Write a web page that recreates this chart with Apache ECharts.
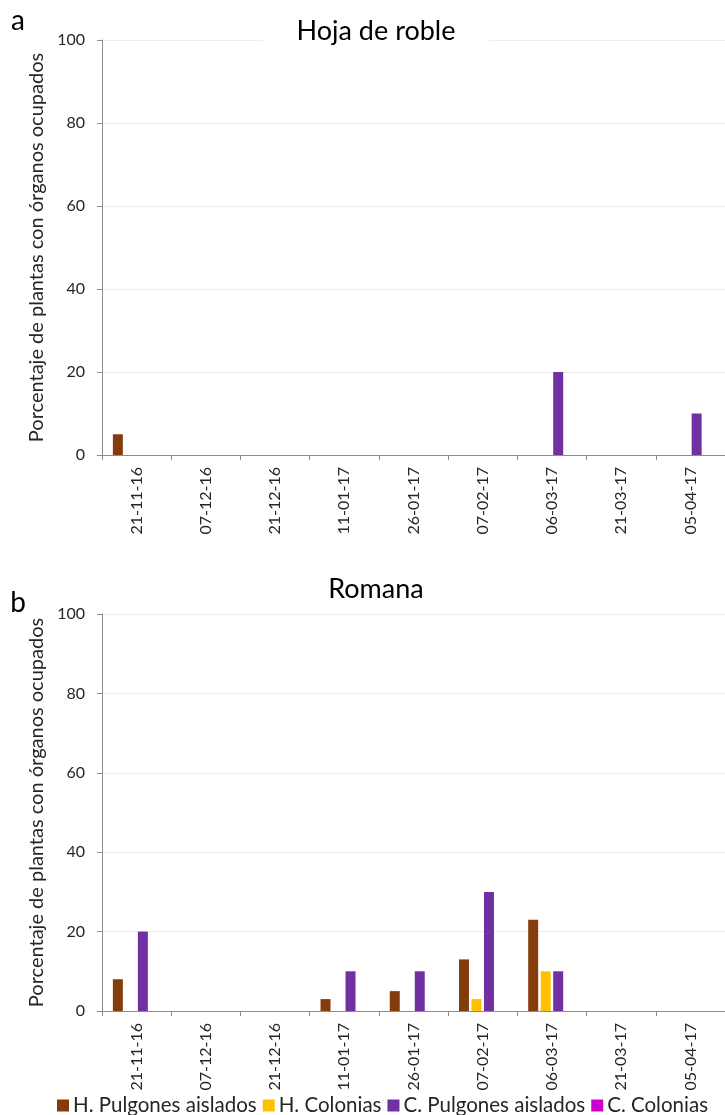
<!DOCTYPE html>
<html>
<head>
<meta charset="utf-8">
<script src="https://cdn.jsdelivr.net/npm/echarts@6/dist/echarts.min.js"></script>
<style>
  html, body { margin: 0; padding: 0; background: #fff; }
  #chart { width: 725px; height: 1115px; }
</style>
</head>
<body>
<div id="chart"></div>
<script>
// Sampling dates (dd-mm-yy)
const categories = ['21-11-16', '07-12-16', '21-12-16', '11-01-17', '26-01-17', '07-02-17', '06-03-17', '21-03-17', '05-04-17'];
const seriesNames = ['H. Pulgones aislados', 'H. Colonias', 'C. Pulgones aislados', 'C. Colonias'];
const yTicks = [0, 20, 40, 60, 80, 100];

// Panel a: Hoja de roble (% of plants with occupied organs)
const hojaHPulgones = [5, 0, 0, 0, 0, 0, 0, 0, 0];
const hojaHColonias = [0, 0, 0, 0, 0, 0, 0, 0, 0];
const hojaCPulgones = [0, 0, 0, 0, 0, 0, 20, 0, 10];
const hojaCColonias = [0, 0, 0, 0, 0, 0, 0, 0, 0];

// Panel b: Romana
const romanaHPulgones = [8, 0, 0, 3, 5, 13, 23, 0, 0];
const romanaHColonias = [0, 0, 0, 0, 0, 3, 10, 0, 0];
const romanaCPulgones = [20, 0, 0, 10, 10, 30, 10, 0, 0];
const romanaCColonias = [0, 0, 0, 0, 0, 0, 0, 0, 0];

const colors = ['#843C0C', '#FFC000', '#7030A0', '#CC00CC'];
const FONT = 'Lato, "Open Sans", sans-serif';
const axisGray = '#8c8c8c';
const textColor = '#262626';

const panels = [
  { title: 'Hoja de roble', letter: 'a', top: 40, height: 415, titleY: 31, letterY: 21,
    data: [hojaHPulgones, hojaHColonias, hojaCPulgones, hojaCColonias] },
  { title: 'Romana', letter: 'b', top: 614, height: 397, titleY: 589, letterY: 603,
    data: [romanaHPulgones, romanaHColonias, romanaCPulgones, romanaCColonias] }
];

const grid = [], xAxis = [], yAxis = [], series = [], graphic = [];
panels.forEach((p, i) => {
  grid.push({ left: 102, right: -5, top: p.top, height: p.height, containLabel: false });
  xAxis.push({
    type: 'category', gridIndex: i, data: categories,
    boundaryGap: true,
    axisLine: { show: true, lineStyle: { color: axisGray, width: 1 } },
    axisTick: { show: true, alignWithLabel: false, length: 5, lineStyle: { color: axisGray } },
    axisLabel: { rotate: 90, interval: 0, margin: 12, color: textColor, fontFamily: FONT, fontSize: 16 },
    splitLine: { show: false }
  });
  yAxis.push({
    type: 'value', gridIndex: i, min: yTicks[0], max: yTicks[yTicks.length - 1], interval: 20,
    name: 'Porcentaje de plantas con órganos ocupados',
    nameLocation: 'middle', nameGap: 52, nameRotate: 90,
    nameTextStyle: { color: textColor, fontFamily: FONT, fontSize: 20 },
    axisLine: { show: true, lineStyle: { color: axisGray, width: 1 } },
    axisTick: { show: true, length: 5, lineStyle: { color: axisGray } },
    axisLabel: { margin: 17, color: textColor, fontFamily: FONT, fontSize: 16 },
    splitLine: { show: true, lineStyle: { color: '#ececec', width: 1 } }
  });
  p.data.forEach((vals, k) => {
    series.push({
      name: seriesNames[k], type: 'bar', xAxisIndex: i, yAxisIndex: i,
      data: vals, barWidth: 10, barGap: '25%',
      itemStyle: { color: colors[k] }
    });
  });
  graphic.push({
    type: 'text', x: 376, y: p.titleY, z: 100,
    style: {
      text: p.title, font: '27px ' + FONT, fill: '#000',
      textAlign: 'center', textVerticalAlign: 'middle',
      backgroundColor: '#fff', padding: [2, 34]
    }
  });
  graphic.push({
    type: 'text', x: 18, y: p.letterY, z: 100,
    style: { text: p.letter, font: '28px ' + FONT, fill: '#000', textAlign: 'center', textVerticalAlign: 'middle' }
  });
});

const chart = echarts.init(document.getElementById('chart'), null, { renderer: 'canvas' });
chart.setOption({
  animation: false,
  backgroundColor: '#fff',
  color: colors,
  grid, xAxis, yAxis, series, graphic,
  legend: {
    data: seriesNames, left: 52, top: 1090,
    itemWidth: 12, itemHeight: 12, itemGap: 6,
    icon: 'rect',
    textStyle: { color: textColor, fontFamily: FONT, fontSize: 20.5, padding: [0, 0, 0, -1] }
  }
});
</script>
</body>
</html>
